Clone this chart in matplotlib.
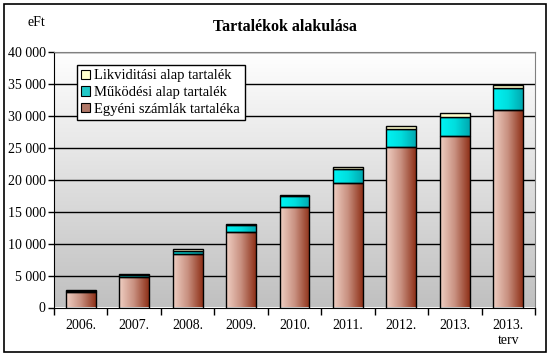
import numpy as np
import matplotlib
matplotlib.use("Agg")
import matplotlib.pyplot as plt
from matplotlib.patches import Rectangle, Patch
from matplotlib.colors import LinearSegmentedColormap

plt.rcParams['font.family'] = ['Liberation Serif', 'DejaVu Serif']

years = ['2006.', '2007.', '2008.', '2009.', '2010.', '2011.', '2012.', '2013.', '2013.\nterv']
egyeni = [2450, 4700, 8400, 11750, 15700, 19450, 25100, 26800, 30900]
mukodesi = [200, 350, 480, 1100, 1700, 2250, 2850, 2980, 3450]
likvid = [150, 150, 280, 160, 160, 300, 400, 600, 470]
labels = ['Likviditási alap tartalék', 'Működési alap tartalék', 'Egyéni számlák tartaléka']

brown_cm = LinearSegmentedColormap.from_list('br', ['#f0d0c4', '#c89080', '#8e3018'])
cyan_cm = LinearSegmentedColormap.from_list('cy', ['#00f4f4', '#00dede', '#00a8b0'])
bg_cm = LinearSegmentedColormap.from_list('bg', ['#c0c0c0', '#ffffff'])

fig = plt.figure(figsize=(5.52, 3.56), dpi=100)
fig.patches.append(Rectangle((4 / 552, 4 / 356), 542 / 552, 348 / 356, transform=fig.transFigure,
                             fill=False, edgecolor='black', lw=1.2))
ax = fig.add_axes([54 / 552, 1 - 307.5 / 356, 481 / 552, 255.5 / 356])

n = len(years)
ax.set_xlim(0, n)
ax.set_ylim(0, 40000)

# background gradient
grad = np.linspace(0, 1, 256).reshape(-1, 1)
ax.imshow(grad, cmap=bg_cm, extent=[0, n, 0, 40000], aspect='auto', origin='lower', zorder=0)

for y in range(5000, 40001, 5000):
    ax.axhline(y, color='black', lw=1, zorder=1)

hgrad = np.linspace(0, 1, 256).reshape(1, -1)
w = 0.56


def grad_bar(x0, y0, h, cmap, face=None):
    if face is None:
        ax.imshow(hgrad, cmap=cmap, extent=[x0, x0 + w, y0, y0 + h], aspect='auto', zorder=2)
        ax.add_patch(Rectangle((x0, y0), w, h, fill=False, edgecolor='black', lw=1, zorder=3))
    else:
        ax.add_patch(Rectangle((x0, y0), w, h, facecolor=face, edgecolor='black', lw=1, zorder=3))


for i in range(n):
    x0 = i + 0.5 - w / 2
    grad_bar(x0, 0, egyeni[i], brown_cm)
    grad_bar(x0, egyeni[i], mukodesi[i], cyan_cm)
    grad_bar(x0, egyeni[i] + mukodesi[i], likvid[i], None, face='#ffffcc')

ax.set_xlim(0, n)
ax.set_ylim(0, 40000)

ax.set_xticks(np.arange(n + 1))
ax.set_xticklabels([])
ax.set_xticks(np.arange(n) + 0.5, minor=True)
ax.set_xticklabels(years, minor=True, fontsize=10)
ax.tick_params(axis='x', which='minor', length=0, pad=8)
ax.tick_params(axis='x', which='major', length=5, direction='out', width=1)
ax.set_yticks(range(0, 40001, 5000))
ax.set_yticklabels([f'{v:,}'.replace(',', ' ') for v in range(0, 40001, 5000)], fontsize=10)
ax.tick_params(axis='y', length=4, direction='out', width=1, pad=2)

for s in ['top', 'right']:
    ax.spines[s].set_color('#808080')
for s in ['left', 'bottom']:
    ax.spines[s].set_color('black')

fig.text(285 / 552, 1 - 27 / 356, 'Tartalékok alakulása', ha='center', va='center',
         fontsize=11.5, fontweight='bold')
fig.text(36 / 552, 1 - 22 / 356, 'eFt', ha='center', va='center', fontsize=10)

handles = [Patch(facecolor='#ffffcc', edgecolor='black', lw=0.8),
           Patch(facecolor='#20c8c8', edgecolor='black', lw=0.8),
           Patch(facecolor='#b07868', edgecolor='black', lw=0.8)]
leg = ax.legend(handles, labels, loc='upper left', bbox_to_anchor=((77 - 54) / 481, (307.5 - 65) / 255.5),
                fontsize=10.5, frameon=True, fancybox=False, edgecolor='black', framealpha=1,
                handlelength=0.6, handleheight=0.6, handletextpad=0.3, borderpad=0.3,
                labelspacing=0.25, borderaxespad=0)
leg.get_frame().set_linewidth(1)
leg.set_zorder(5)

fig.savefig('out.png', dpi=100)
